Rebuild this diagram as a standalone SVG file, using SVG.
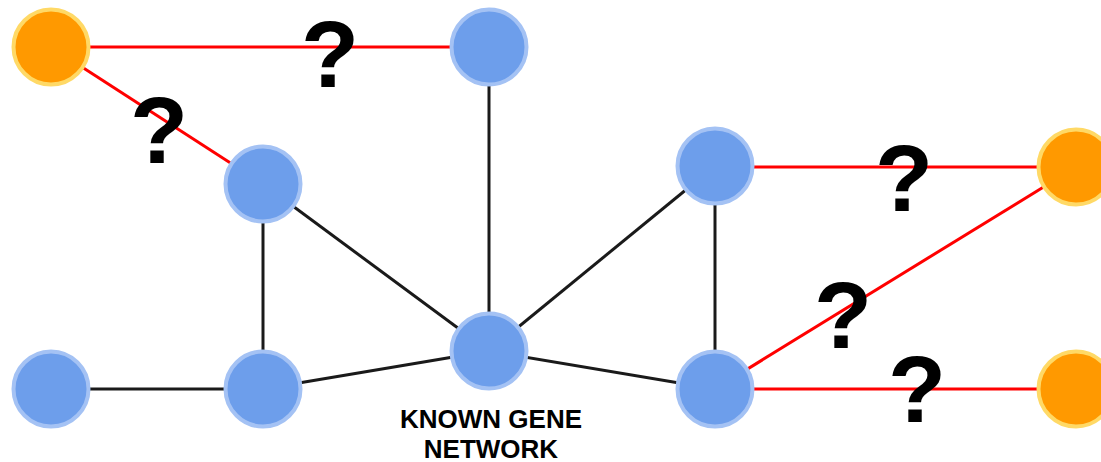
<svg xmlns="http://www.w3.org/2000/svg" width="1101" height="462" viewBox="0 0 1101 462">
  <style>
    .known { stroke: #1a1a1a; stroke-width: 3; fill: none; }
    .unknown { stroke: #ff0000; stroke-width: 3; fill: none; }
    .gene { fill: #6d9eeb; stroke: #a4c2f4; stroke-width: 4; }
    .candidate { fill: #ff9900; stroke: #ffd966; stroke-width: 4; }
    .q { font-family: "Liberation Sans", Arial, sans-serif; font-weight: bold; font-size: 95px; fill: #000; text-anchor: middle; }
    .label { font-family: "Liberation Sans", Arial, sans-serif; font-weight: bold; font-size: 26px; fill: #000; text-anchor: middle; }
  </style>
  <rect width="1101" height="462" fill="#ffffff"/>

  <!-- connectors -->
  <g id="connectors">
    <line class="known" x1="489" y1="47" x2="489" y2="351"/>
    <line class="known" x1="263" y1="184" x2="263" y2="389"/>
    <line class="known" x1="263" y1="184" x2="489" y2="351"/>
    <line class="known" x1="51" y1="389" x2="263" y2="389"/>
    <line class="known" x1="263" y1="389" x2="489" y2="351"/>
    <line class="known" x1="489" y1="351" x2="715" y2="166"/>
    <line class="known" x1="489" y1="351" x2="715" y2="389"/>
    <line class="known" x1="715" y1="166" x2="715" y2="389"/>
    <line class="unknown" x1="51" y1="47" x2="489" y2="47"/>
    <line class="unknown" x1="51" y1="47" x2="263" y2="184"/>
    <line class="unknown" x1="715" y1="167" x2="1076" y2="167"/>
    <line class="unknown" x1="715" y1="389" x2="1076" y2="167"/>
    <line class="unknown" x1="715" y1="389" x2="1076" y2="389"/>
  </g>

  <!-- nodes -->
  <g id="cand-top-left"><circle class="candidate" cx="51" cy="47" r="37.5"/></g>
  <g id="gene-top"><circle class="gene" cx="489" cy="47" r="37.5"/></g>
  <g id="gene-left-mid"><circle class="gene" cx="263" cy="184" r="37.5"/></g>
  <g id="gene-right-mid"><circle class="gene" cx="715" cy="166" r="37.5"/></g>
  <g id="cand-right-mid"><circle class="candidate" cx="1076" cy="167" r="37.5"/></g>
  <g id="gene-bottom-far-left"><circle class="gene" cx="51" cy="389" r="37.5"/></g>
  <g id="gene-bottom-left"><circle class="gene" cx="263" cy="389" r="37.5"/></g>
  <g id="gene-hub">
    <circle class="gene" cx="489" cy="351" r="37.5"/>
    <text class="label" x="491" y="428">KNOWN GENE</text>
    <text class="label" x="491" y="458">NETWORK</text>
  </g>
  <g id="gene-bottom-right"><circle class="gene" cx="715" cy="389" r="37.5"/></g>
  <g id="cand-bottom-right"><circle class="candidate" cx="1076" cy="389" r="37.5"/></g>

  <!-- unknown-link markers -->
  <g id="question-marks">
    <text class="q" x="330" y="87">?</text>
    <text class="q" x="159" y="163">?</text>
    <text class="q" x="904" y="211">?</text>
    <text class="q" x="843" y="348">?</text>
    <text class="q" x="917" y="422">?</text>
  </g>
</svg>
